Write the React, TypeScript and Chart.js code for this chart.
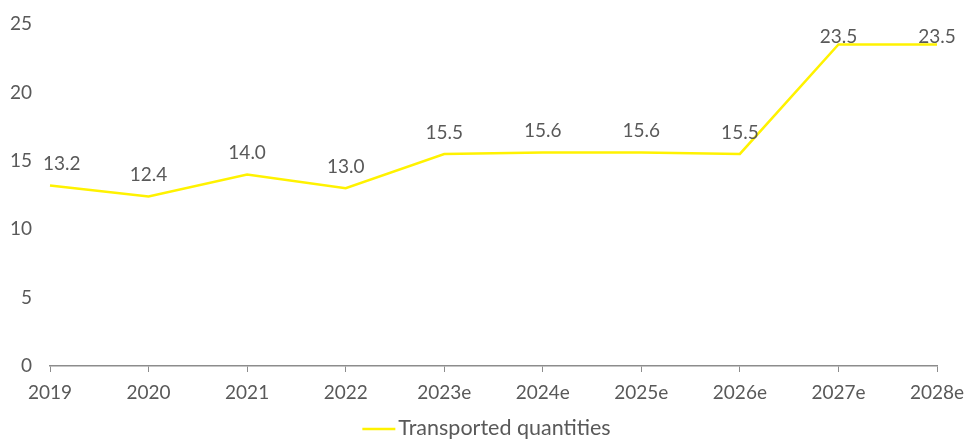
import React, { useEffect, useRef } from "react";
import { Chart, registerables } from "chart.js";

Chart.register(...registerables);

const years = ["2019", "2020", "2021", "2022", "2023e", "2024e", "2025e", "2026e", "2027e", "2028e"];
const transported = [13.2, 12.4, 14.0, 13.0, 15.5, 15.6, 15.6, 15.5, 23.5, 23.5];
const yTicks = [0, 5, 10, 15, 20, 25];
const seriesName = "Transported quantities";

const FONT = "Lato, 'Open Sans', sans-serif";
const GREY = "#595959";
const YELLOW = "#FFF200";

// Value labels above each point
const valueLabels = {
  id: "valueLabels",
  afterDatasetsDraw(chart: any) {
    const { ctx, chartArea } = chart;
    const meta = chart.getDatasetMeta(0);
    const data = chart.data.datasets[0].data as number[];
    ctx.save();
    ctx.font = `19px ${FONT}`;
    ctx.fillStyle = GREY;
    ctx.textAlign = "center";
    ctx.textBaseline = "bottom";
    meta.data.forEach((pt: any, i: number) => {
      const txt = data[i].toFixed(1);
      const w = ctx.measureText(txt).width;
      let x = pt.x;
      if (x - w / 2 < chartArea.left - 7) x = chartArea.left - 7 + w / 2;
      let y = pt.y - 12;
      if (y < chartArea.top + 22) y = chartArea.top + 22;
      ctx.fillText(txt, x, y);
    });
    ctx.restore();
  },
};

// Legend drawn centred under the axis
const bottomLegend = {
  id: "bottomLegend",
  afterDraw(chart: any) {
    const { ctx, width } = chart;
    const ds = chart.data.datasets[0];
    ctx.save();
    ctx.font = `21.5px ${FONT}`;
    const tw = ctx.measureText(ds.label).width;
    const lineW = 33;
    const total = lineW + 3 + tw;
    const x0 = (width - total) / 2 + 3;
    const y = 429;
    ctx.strokeStyle = ds.borderColor;
    ctx.lineWidth = 2.5;
    ctx.beginPath();
    ctx.moveTo(x0, y);
    ctx.lineTo(x0 + lineW, y);
    ctx.stroke();
    ctx.fillStyle = GREY;
    ctx.textBaseline = "middle";
    ctx.textAlign = "left";
    ctx.fillText(ds.label, x0 + lineW + 3, y - 1);
    ctx.restore();
  },
};

export default function App() {
  const ref = useRef<HTMLCanvasElement>(null);

  useEffect(() => {
    document.body.style.margin = "0";
    const chart = new Chart(ref.current!, {
      type: "line",
      data: {
        labels: years,
        datasets: [
          {
            label: seriesName,
            data: transported,
            borderColor: YELLOW,
            backgroundColor: YELLOW,
            borderWidth: 2.5,
            pointRadius: 0,
            tension: 0,
          },
        ],
      },
      options: {
        animation: false,
        responsive: false,
        layout: { padding: { top: 24, right: 30, left: 0, bottom: 33 } },
        plugins: {
          legend: { display: false },
          tooltip: { enabled: false },
        },
        scales: {
          x: {
            offset: false,
            grid: {
              display: true,
              drawOnChartArea: false,
              drawTicks: true,
              tickLength: 6,
              color: "#8c8c8c",
            },
            border: { display: true, color: "#8c8c8c", width: 1.5 },
            ticks: {
              autoSkip: false,
              maxRotation: 0,
              padding: 9,
              color: GREY,
              font: { family: FONT, size: 19 },
            },
            afterFit(scale: any) {
              scale.height = 40;
              scale.paddingLeft = 0;
              scale.paddingRight = 0;
              scale.paddingTop = 0;
              scale.paddingBottom = 0;
            },
          },
          y: {
            min: 0,
            max: 25,
            afterBuildTicks(scale: any) {
              scale.ticks = yTicks.map((v) => ({ value: v }));
            },
            grid: { display: false, drawTicks: false },
            border: { display: false },
            ticks: {
              padding: 18,
              color: GREY,
              font: { family: FONT, size: 19 },
            },
            afterFit(scale: any) {
              scale.width = 50;
              scale.paddingLeft = 0;
              scale.paddingRight = 0;
              scale.paddingTop = 0;
              scale.paddingBottom = 0;
            },
          },
        },
      },
      plugins: [valueLabels, bottomLegend],
    });
    return () => chart.destroy();
  }, []);

  return (
    <div style={{ width: 967, height: 439 }}>
      <canvas ref={ref} width={967} height={439} style={{ display: "block" }} />
    </div>
  );
}
